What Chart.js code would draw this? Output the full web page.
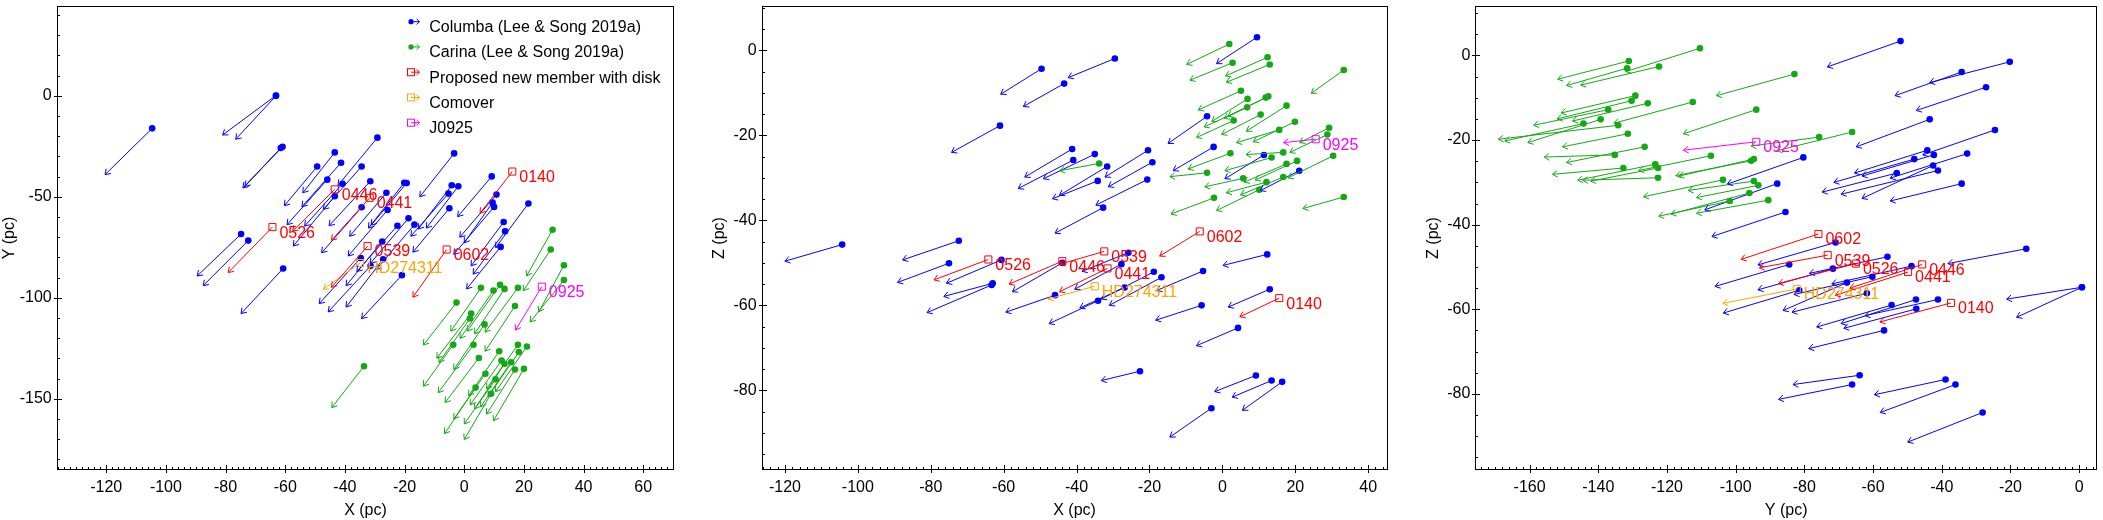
<!DOCTYPE html>
<html>
<head>
<meta charset="utf-8">
<script src="https://cdn.jsdelivr.net/npm/chart.js@4.4.1/dist/chart.umd.min.js"></script>
<style>
  html, body { margin: 0; padding: 0; background: #fff; }
  #wrap { position: relative; width: 2103px; height: 520px; background: #fff; overflow: hidden; }
  #wrap canvas { position: absolute; top: 0; }
</style>
</head>
<body>
<div id="wrap">
  <canvas id="pXY" width="690" height="520" style="left:0px"></canvas>
  <canvas id="pXZ" width="690" height="520" style="left:710px"></canvas>
  <canvas id="pYZ" width="679" height="520" style="left:1424px"></canvas>
</div>
<script>
// --- DONNEES : [x0, y0, x1, y1] = position actuelle -> position projetee ---
const legendLabels = ['Columba (Lee & Song 2019a)', 'Carina (Lee & Song 2019a)', 'Proposed new member with disk', 'Comover', 'J0925'];

// X-Y
const xyColumba = [
  [-104.6,-16.1,-120.4,-39.0],[-63.1,0.2,-81.0,-19.4],[-63.1,0.0,-76.6,-21.5],[-60.9,-25.2,-74.2,-45.6],
  [-61.5,-25.8,-73.5,-44.8],[-43.4,-28.0,-54.1,-48.0],[-49.3,-35.0,-60.3,-54.4],[-41.3,-33.1,-54.4,-54.9],
  [-45.9,-41.5,-59.4,-63.8],[-43.4,-49.7,-57.3,-74.4],[-40.8,-43.5,-53.5,-64.5],[-34.4,-35.0,-47.2,-56.2],
  [-29.1,-20.7,-42.3,-44.3],[-31.5,-42.3,-45.3,-64.3],[-34.4,-55.2,-47.8,-77.7],[-26.1,-48.0,-38.4,-69.5],
  [-25.7,-56.5,-38.9,-79.3],[-20.1,-43.0,-32.1,-65.5],[-19.3,-43.2,-31.2,-64.0],[-22.4,-64.3,-36.0,-87.0],
  [-18.7,-60.6,-31.5,-83.0],[-16.7,-63.8,-29.5,-86.0],[-27.5,-72.1,-39.6,-94.0],[-27.2,-80.9,-39.6,-104.6],
  [-20.9,-88.8,-34.4,-110.3],[-34.7,-80.3,-48.6,-102.9],[-31.4,-84.2,-45.6,-107.0],[-60.7,-85.5,-74.8,-107.8],
  [-74.8,-68.4,-89.5,-89.2],[-72.4,-71.7,-87.5,-94.0],[-3.4,-28.5,-14.9,-50.0],[-4.2,-44.3,-15.4,-66.0],
  [-2.0,-44.8,-12.7,-65.5],[-5.3,-48.4,-17.9,-69.5],[-5.0,-55.7,-17.2,-77.4],[9.2,-39.9,-2.2,-59.8],
  [9.5,-52.8,0.0,-72.8],[10.0,-55.0,-3.5,-78.5],[10.8,-48.9,-1.5,-70.0],[21.5,-53.3,10.5,-75.2],
  [13.2,-62.5,2.3,-84.2],[13.7,-67.1,3.0,-88.3],[12.2,-74.8,0.8,-95.6]
];
const xyCarina = [
  [29.6,-66.3,20.9,-89.2],[29.0,-76.1,19.8,-96.5],[33.4,-83.9,25.0,-107.0],[33.4,-91.2,22.1,-112.0],
  [5.6,-95.1,-4.5,-116.5],[12.0,-93.6,1.0,-116.5],[13.5,-95.6,3.5,-117.8],[9.8,-96.4,-1.4,-120.1],
  [18.0,-95.1,7.0,-117.0],[-2.6,-102.4,-13.7,-123.4],[17.0,-104.1,7.0,-126.5],[2.3,-107.8,-9.2,-129.9],
  [1.9,-110.3,-8.5,-132.0],[6.8,-113.2,-3.5,-135.5],[-3.7,-123.3,-13.7,-143.8],[3.1,-123.3,-8.7,-147.0],
  [18.0,-123.3,7.5,-145.0],[21.0,-124.1,10.5,-146.5],[18.3,-126.9,8.0,-149.0],[11.7,-126.5,1.5,-148.5],
  [4.9,-129.8,-6.4,-151.9],[12.5,-131.1,2.0,-153.0],[13.5,-132.7,3.5,-155.0],[15.7,-131.9,5.5,-154.0],
  [17.0,-135.5,7.5,-157.6],[20.0,-135.2,9.8,-160.9],[7.1,-137.6,-3.5,-160.0],[10.5,-140.4,0.0,-162.5],
  [3.8,-144.5,-6.6,-167.3],[9.0,-147.5,0.0,-170.2],[-33.6,-133.9,-44.4,-154.4]
];
const xyDisk = [
  ['0140',16.1,-37.5,5.3,-58.1],['0446',-43.4,-46.3,-57.5,-67.0],['0441',-31.7,-50.5,-44.5,-71.5],
  ['0526',-64.3,-65.0,-79.1,-87.5],['0539',-32.4,-74.4,-44.5,-94.8],['0602',-5.9,-76.1,-17.2,-99.7]
];
const xyComover = [['HD274311',-34.9,-82.8,-47.2,-95.7]];
const xyJ0925 = [['0925',26.0,-94.5,17.2,-116.0]];

// X-Z
const xzColumba = [
  [-104.3,-45.7,-120.0,-49.6],[-72.3,-44.8,-87.7,-49.3],[-75.0,-50.1,-89.1,-54.6],[-63.0,-54.8,-76.4,-57.9],
  [-63.3,-55.2,-81.0,-61.7],[-60.6,-49.3,-75.7,-54.8],[-49.6,-4.3,-60.8,-10.3],[-43.4,-7.8,-54.6,-13.2],
  [-61.0,-17.7,-74.3,-24.0],[-29.5,-1.9,-42.3,-6.4],[-45.9,-57.6,-59.4,-61.6],[-43.9,-50.0,-57.6,-56.8],
  [-41.2,-23.2,-54.2,-29.8],[-35.0,-24.4,-49.1,-30.2],[-40.9,-25.8,-56.0,-32.5],[-31.6,-27.3,-44.7,-34.1],
  [-34.2,-30.7,-46.6,-34.9],[-20.4,-23.5,-32.2,-29.8],[-19.2,-26.3,-31.3,-32.1],[-20.6,-30.4,-34.7,-36.4],
  [-32.7,-37.0,-45.9,-43.0],[-4.2,-15.5,-14.9,-21.9],[-2.4,-22.7,-13.5,-28.3],[9.5,3.1,-1.6,-3.1],
  [11.4,-24.6,0.7,-30.2],[21.1,-28.3,10.4,-33.0],[12.3,-48.0,0.2,-50.6],[-5.3,-51.9,-18.0,-56.5],
  [13.0,-56.2,1.6,-60.4],[-5.7,-60.0,-18.3,-63.5],[4.3,-65.3,-7.1,-69.5],[-18.8,-52.1,-33.2,-58.5],
  [-16.7,-53.4,-31.0,-60.0],[-27.7,-50.3,-40.5,-56.2],[-25.8,-47.6,-38.5,-52.0],[-26.8,-55.8,-39.1,-60.6],
  [-34.1,-58.9,-47.5,-64.3],[-22.6,-75.5,-33.2,-77.7],[9.2,-76.5,-2.1,-80.3],[13.5,-77.7,2.7,-81.6],
  [16.4,-78.0,5.5,-84.7],[-3.0,-84.2,-14.4,-91.0]
];
const xzCarina = [
  [1.9,1.5,-9.8,-3.3],[2.8,-2.9,-8.9,-7.0],[12.4,-1.6,0.9,-6.0],[13.0,-3.3,1.1,-7.5],
  [33.3,-4.6,24.4,-10.1],[5.1,-9.5,-6.6,-14.0],[6.9,-11.4,-2.9,-16.7],[11.9,-11.1,0.5,-16.0],
  [12.6,-10.8,1.5,-15.5],[6.8,-13.4,-5.0,-18.0],[17.6,-13.0,6.6,-19.0],[10.5,-15.1,-0.2,-19.8],
  [3.1,-16.5,-7.1,-20.5],[19.9,-16.8,8.5,-21.5],[15.6,-18.7,3.9,-21.7],[29.3,-18.2,21.2,-21.7],
  [28.8,-19.8,18.5,-24.0],[2.2,-24.2,-9.4,-27.9],[16.7,-24.0,6.5,-24.5],[13.5,-25.2,0.7,-28.3],
  [20.5,-26.0,9.0,-30.5],[30.4,-24.8,18.0,-30.0],[-4.2,-28.8,-14.4,-29.7],[5.7,-30.1,-4.8,-32.1],
  [17.6,-26.7,6.0,-31.0],[12.1,-31.0,1.1,-33.5],[16.7,-29.8,5.0,-34.0],[10.1,-32.8,-1.6,-37.7],
  [-2.3,-34.7,-14.1,-38.5],[33.3,-34.5,22.1,-37.2],[-33.8,-26.6,-44.6,-28.3]
];
const xzDisk = [
  ['0140',15.6,-58.3,4.8,-62.7],['0446',-43.9,-49.6,-58.5,-55.0],['0441',-31.5,-51.3,-44.7,-56.8],
  ['0526',-64.2,-49.2,-79.1,-54.0],['0539',-32.4,-47.3,-44.5,-50.3],['0602',-6.2,-42.6,-17.2,-48.4]
];
const xzComover = [['HD274311',-35.0,-55.5,-47.8,-58.5]];
const xzJ0925 = [['0925',25.6,-20.9,16.8,-21.7]];

// Y-Z
const yzColumba = [
  [-52.0,3.4,-73.3,-2.7],[-20.2,-1.5,-43.5,-6.4],[-34.2,-3.9,-53.6,-9.5],[-27.1,-7.5,-47.4,-13.0],
  [-43.5,-15.1,-64.9,-21.6],[-24.5,-17.6,-45.5,-23.5],[-44.2,-22.4,-65.4,-27.8],[-42.3,-23.5,-63.2,-28.5],
  [-32.6,-23.2,-55.0,-29.0],[-48.0,-24.5,-71.4,-30.0],[-42.5,-26.0,-63.2,-33.8],[-41.1,-27.2,-69.3,-32.8],
  [-53.1,-27.8,-74.8,-32.3],[-34.2,-30.3,-55.0,-34.4],[-80.3,-24.1,-102.4,-30.4],[-87.9,-30.3,-109.0,-36.5],
  [-85.5,-37.0,-106.9,-42.8],[-15.4,-45.7,-38.2,-49.2],[-55.8,-47.6,-78.5,-51.5],[-84.4,-49.4,-106.0,-54.6],
  [-60.2,-52.3,-83.0,-56.5],[-48.8,-49.8,-72.0,-54.0],[-61.8,-56.2,-83.6,-60.7],[-54.6,-59.0,-76.4,-64.2],
  [-47.5,-57.7,-69.3,-63.4],[-41.1,-57.7,-62.3,-61.5],[-47.4,-59.9,-68.5,-64.5],[-56.8,-65.0,-78.7,-69.3],
  [0.8,-54.8,-21.1,-57.6],[0.8,-54.8,-18.2,-61.9],[-63.9,-75.6,-83.3,-77.8],[-66.1,-77.8,-87.5,-81.3],
  [-38.9,-76.6,-59.6,-80.2],[-36.0,-77.8,-57.9,-84.4],[-28.1,-84.4,-49.9,-91.4],[-70.9,-44.2,-93.5,-49.5],
  [-71.7,-50.4,-93.5,-55.4],[-67.6,-53.7,-86.2,-60.3],[-81.5,-55.5,-103.6,-60.9]
];
const yzCarina = [
  [-110.4,1.7,-132.0,-3.8],[-131.1,-1.3,-151.8,-5.6],[-131.6,-3.0,-149.2,-7.1],[-122.3,-2.6,-145.1,-7.0],
  [-82.9,-4.4,-105.6,-9.5],[-129.2,-9.5,-150.8,-13.6],[-130.3,-10.7,-152.0,-15.0],[-125.6,-11.3,-147.5,-15.5],
  [-112.5,-11.0,-135.4,-16.0],[-137.1,-12.8,-158.8,-16.5],[-139.3,-15.1,-160.5,-20.6],[-144.3,-16.1,-167.2,-20.2],
  [-134.2,-16.5,-169.1,-19.8],[-94.0,-12.8,-115.2,-18.5],[-131.4,-18.5,-150.4,-21.6],[-126.5,-21.6,-149.2,-25.3],
  [-135.2,-23.5,-155.7,-24.0],[-107.2,-23.7,-128.2,-27.2],[-95.5,-24.9,-117.4,-28.4],[-94.7,-24.5,-116.5,-28.5],
  [-123.4,-25.7,-146.0,-29.5],[-122.6,-26.6,-142.2,-29.7],[-132.7,-26.6,-153.3,-28.1],[-122.6,-28.9,-144.5,-29.5],
  [-103.7,-29.4,-126.8,-33.4],[-94.7,-29.7,-113.8,-31.9],[-93.4,-30.7,-111.4,-33.6],[-96.0,-32.5,-118.8,-37.5],
  [-101.7,-34.4,-122.4,-38.0],[-90.5,-34.2,-111.4,-37.3],[-75.7,-19.3,-95.5,-21.4],[-66.1,-18.1,-88.0,-22.5]
];
const yzDisk = [
  ['0140',-37.3,-58.5,-58.0,-63.0],['0446',-45.7,-49.4,-66.7,-55.0],['0441',-49.8,-51.2,-71.0,-56.7],
  ['0526',-65.0,-49.2,-87.5,-53.9],['0539',-73.2,-47.2,-93.1,-50.2],['0602',-75.9,-42.2,-98.4,-48.2]
];
const yzComover = [['HD274311',-82.2,-55.2,-103.7,-58.6]];
const yzJ0925 = [['0925',-94.0,-20.4,-115.2,-22.4]];

// --- STYLE ---
const BLUE = '#0000ff', GREEN = '#14a814', RED = '#ff0000', ORANGE = '#ffa500', MAGENTA = '#ff00ff';
const FONT = '"Liberation Sans", Arial, Helvetica, sans-serif';

// segments separes par un point vide (y null) pour couper la ligne
function segs(rows, k) {
    const out = [];
    rows.forEach(r => {
        out.push({ x: r[k], y: r[k + 1] }, { x: r[k + 2], y: r[k + 3] }, { x: r[k + 2], y: null });
    });
    return out;
}

function head(ctx, x0, y0, x1, y1, len, spread) {
    const a = Math.atan2(y1 - y0, x1 - x0);
    ctx.beginPath();
    ctx.moveTo(x1 - len * Math.cos(a - spread), y1 - len * Math.sin(a - spread));
    ctx.lineTo(x1, y1);
    ctx.lineTo(x1 - len * Math.cos(a + spread), y1 - len * Math.sin(a + spread));
    ctx.stroke();
}

function drawTicks(ctx, scale, minor, horizontal, area) {
    const majors = scale.ticks.map(t => t.value);
    const lo = Math.ceil(scale.min / minor), hi = Math.floor(scale.max / minor);
    ctx.beginPath();
    for (let k = lo; k <= hi; k++) {
        const v = k * minor;
        const big = majors.some(m => Math.abs(m - v) < 1e-6);
        const p = Math.round(scale.getPixelForValue(v)) + 0.5;
        if (horizontal) {
            const b = Math.round(area.bottom);
            ctx.moveTo(p, b - (big ? 5 : 3));
            ctx.lineTo(p, b + (big ? 3 : 0));
        } else {
            const l = Math.round(area.left);
            ctx.moveTo(l + (big ? 5 : 3), p);
            ctx.lineTo(l - (big ? 3 : 0), p);
        }
    }
    ctx.stroke();
}

function drawLegend(ctx, area) {
    const colors = [BLUE, GREEN, RED, ORANGE, MAGENTA];
    ctx.font = '16px ' + FONT;
    ctx.textBaseline = 'middle';
    ctx.textAlign = 'left';
    legendLabels.forEach((name, i) => {
        const cy = area.top + 21.7 + i * 25.25;
        const iy = cy - 6;
        const ix = area.left + 354.3;
        ctx.strokeStyle = colors[i];
        ctx.fillStyle = colors[i];
        ctx.lineWidth = 1;
        if (i < 2) {
            ctx.beginPath();
            ctx.arc(ix, iy, 2.6, 0, Math.PI * 2);
            ctx.fill();
        } else {
            ctx.strokeRect(ix - 3.5, iy - 3.5, 7, 7);
        }
        ctx.beginPath();
        ctx.moveTo(ix, iy);
        ctx.lineTo(ix + 8.5, iy);
        ctx.stroke();
        head(ctx, ix, iy, ix + 8.5, iy, 4, 0.75);
        ctx.fillStyle = '#000';
        ctx.fillText(name, area.left + 372.6, cy);
    });
}

function makeDecor(p) {
    return {
        id: 'decor',
        afterDatasetsDraw(chart) {
            const { ctx, chartArea } = chart;
            const sx = chart.scales.x, sy = chart.scales.y;
            ctx.save();
            ctx.beginPath();
            ctx.rect(chartArea.left, chartArea.top, chartArea.right - chartArea.left, chartArea.bottom - chartArea.top);
            ctx.clip();
            ctx.lineWidth = 1;
            p.groups.forEach(g => {
                const k = g.named ? 1 : 0;
                ctx.strokeStyle = g.color;
                g.rows.forEach(r => {
                    head(ctx, sx.getPixelForValue(r[k]), sy.getPixelForValue(r[k + 1]),
                        sx.getPixelForValue(r[k + 2]), sy.getPixelForValue(r[k + 3]), 6, 0.6);
                });
                if (g.named) {
                    ctx.fillStyle = g.color;
                    ctx.font = '16px ' + FONT;
                    ctx.textBaseline = 'middle';
                    ctx.textAlign = 'left';
                    g.rows.forEach(r => {
                        ctx.fillText(r[0], sx.getPixelForValue(r[1]) + 7, sy.getPixelForValue(r[2]) + 6);
                    });
                }
            });
            ctx.restore();
        },
        afterDraw(chart) {
            const { ctx, chartArea } = chart;
            ctx.save();
            ctx.strokeStyle = '#000';
            ctx.lineWidth = 1;
            const L = Math.round(chartArea.left) + 0.5, T = Math.round(chartArea.top) + 0.5;
            const R = Math.round(chartArea.right) - 0.5, B = Math.round(chartArea.bottom) - 0.5;
            ctx.strokeRect(L, T, R - L, B - T);
            drawTicks(ctx, chart.scales.x, p.x.minor, true, chartArea);
            drawTicks(ctx, chart.scales.y, p.y.minor, false, chartArea);
            if (p.legend) drawLegend(ctx, chartArea);
            ctx.restore();
        }
    };
}

function axisOpts(a, which) {
    return {
        type: 'linear',
        min: a.min, max: a.max,
        grid: { display: false, drawTicks: false },
        border: { display: false },
        ticks: {
            stepSize: a.step, includeBounds: false, autoSkip: false, maxRotation: 0,
            padding: which === 'x' ? 8 : 5, color: '#000',
            font: { family: FONT, size: 16 },
            callback: v => String(v)
        },
        title: { display: true, text: a.title, color: '#000', font: { family: FONT, size: 16 }, padding: 0 },
        afterFit: s => {
            // pas de marge automatique pour les etiquettes : la zone de trace va jusqu'au bord
            s.paddingTop = 0; s.paddingBottom = 0; s.paddingLeft = 0; s.paddingRight = 0;
            if (which === 'x') s.height = 50; else s.width = a.width;
        }
    };
}

function build(id, p) {
    const datasets = [];
    p.groups.forEach((g, gi) => {
        const k = g.named ? 1 : 0;
        const order = 100 - gi * 2;
        datasets.push({
            data: segs(g.rows, k), showLine: true, spanGaps: false,
            borderColor: g.color, borderWidth: 1, pointRadius: 0, order: order
        });
        datasets.push({
            data: g.rows.map(r => ({ x: r[k], y: r[k + 1] })),
            pointStyle: g.named ? 'rect' : 'circle',
            pointRadius: g.named ? 5 : 3.3,
            pointBackgroundColor: g.named ? 'rgba(0,0,0,0)' : g.color,
            pointBorderColor: g.color,
            pointBorderWidth: g.named ? 1 : 0,
            order: order - 1
        });
    });
    return new Chart(document.getElementById(id), {
        type: 'scatter',
        data: { datasets },
        options: {
            responsive: false, animation: false, events: [], devicePixelRatio: 1,
            layout: { padding: { top: 0, right: p.padRight, left: 0, bottom: 0 } },
            plugins: { legend: { display: false }, tooltip: { enabled: false } },
            scales: { x: axisOpts(p.x, 'x'), y: axisOpts(p.y, 'y') }
        },
        plugins: [makeDecor(p)]
    });
}

function groups(col, car, disk, como, j) {
    return [
        { rows: col, color: BLUE },
        { rows: car, color: GREEN },
        { rows: j, color: MAGENTA, named: true },
        { rows: como, color: ORANGE, named: true },
        { rows: disk, color: RED, named: true }
    ];
}

// --- INITIALISATION ---
build('pXY', {
    groups: groups(xyColumba, xyCarina, xyDisk, xyComover, xyJ0925),
    x: { min: -136.6, max: 70.4, step: 20, minor: 2, title: 'X (pc)' },
    y: { min: -185.3, max: 44.5, step: 50, minor: 10, title: 'Y (pc)', width: 56.7 },
    padRight: 15.7, legend: true
});
build('pXZ', {
    groups: groups(xzColumba, xzCarina, xzDisk, xzComover, xzJ0925),
    x: { min: -126.4, max: 45.3, step: 20, minor: 2, title: 'X (pc)' },
    y: { min: -98.75, max: 10.46, step: 20, minor: 5, title: 'Z (pc)', width: 51.6 },
    padRight: 12.5
});
build('pYZ', {
    groups: groups(yzColumba, yzCarina, yzDisk, yzComover, yzJ0925),
    x: { min: -175.8, max: 5.2, step: 20, minor: 2, title: 'Y (pc)' },
    y: { min: -98.0, max: 11.7, step: 20, minor: 5, title: 'Z (pc)', width: 51.3 },
    padRight: 1.2
});
</script>
</body>
</html>
